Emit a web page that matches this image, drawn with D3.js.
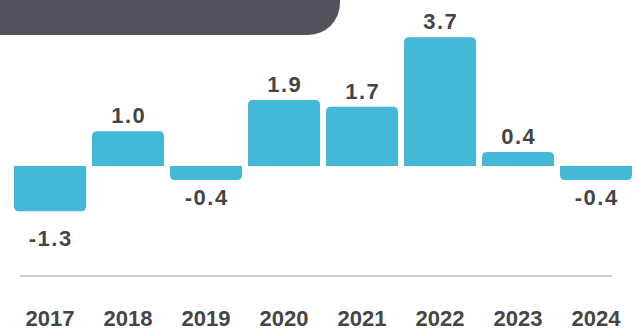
<!DOCTYPE html>
<html>
<head>
<script src="https://d3js.org/d3.v7.min.js"></script>
<style>
  body { margin: 0; background: #fff; }
  text { font-family: "Liberation Sans", Arial, sans-serif; font-weight: bold; fill: #454545; }
</style>
</head>
<body>
<script>
var years = ["2017", "2018", "2019", "2020", "2021", "2022", "2023", "2024"];
var values = [-1.3, 1.0, -0.4, 1.9, 1.7, 3.7, 0.4, -0.4];
var labels = ["-1.3", "1.0", "-0.4", "1.9", "1.7", "3.7", "0.4", "-0.4"];

var width = 637, height = 331;

var svg = d3.select("body").append("svg")
    .attr("width", width)
    .attr("height", height);

// dark header block top-left
svg.append("rect")
    .attr("x", -40).attr("y", -40)
    .attr("width", 380).attr("height", 75)
    .attr("rx", 32)
    .style("fill", "#52515c");

var x = d3.scaleBand()
    .domain(years)
    .range([14, 632])
    .paddingInner(6 / 78);

var y = d3.scaleLinear()
    .domain([0, 3.7])
    .range([166, 37.3]);

// bar with rounded outer end only
function barPath(d, i) {
    var x0 = x(years[i]), w = x.bandwidth();
    var y0 = y(0), y1 = y(d), r = 5;
    var s = d >= 0 ? 1 : -1;
    return "M" + x0 + "," + y0 +
        "V" + (y1 + s * r) + "Q" + x0 + "," + y1 + " " + (x0 + r) + "," + y1 +
        "H" + (x0 + w - r) + "Q" + (x0 + w) + "," + y1 + " " + (x0 + w) + "," + (y1 + s * r) +
        "V" + y0 + "Z";
}

svg.selectAll(".bar")
    .data(values)
    .enter()
    .append("path")
    .attr("class", "bar")
    .attr("d", barPath)
    .style("fill", "#43b8d7");

svg.selectAll(".val")
    .data(values)
    .enter()
    .append("text")
    .attr("class", "val")
    .attr("x", function (d, i) { return x(years[i]) + x.bandwidth() / 2 + 0.75; })
    .attr("y", function (d) { return d >= 0 ? y(d) - 8 : y(d) + 20.5 - d * 11; })
    .attr("text-anchor", "middle")
    .style("font-size", "22px")
    .style("letter-spacing", "1.5px")
    .text(function (d, i) { return labels[i]; });

// baseline rule
svg.append("line")
    .attr("x1", 20).attr("x2", 612)
    .attr("y1", 276).attr("y2", 276)
    .style("stroke", "#cbcbcb")
    .style("stroke-width", 2);

// year labels via axis
var axis = svg.append("g")
    .attr("transform", "translate(0,310)")
    .call(d3.axisBottom(x).tickSize(0).tickPadding(0));
axis.select(".domain").remove();
axis.selectAll("text")
    .attr("dy", "0.72em")
    .style("font-size", "22px")
    .style("font-family", "Liberation Sans, Arial, sans-serif")
    .style("font-weight", "bold")
    .style("fill", "#454545");
</script>
</body>
</html>
